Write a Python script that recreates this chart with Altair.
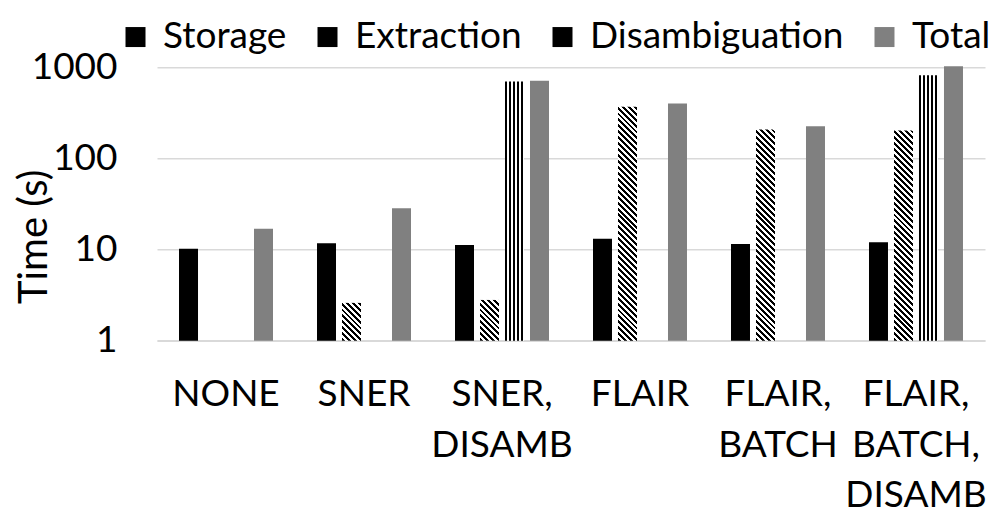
import math
import altair as alt
import pandas as pd

# ---- data ----
configs = ["NONE", "SNER", "SNER, DISAMB", "FLAIR", "FLAIR, BATCH", "FLAIR, BATCH, DISAMB"]
series_names = ["Storage", "Extraction", "Disambiguation", "Total"]
storage = [10.2, 11.7, 11.2, 13.1, 11.5, 12.0]
extraction = [None, 2.6, 2.8, 368, 208, 203]
disambiguation = [None, None, 700, None, None, 819]
total = [16.9, 28.4, 712, 401, 225, 1025]
y_ticks = [1, 10, 100, 1000]

rows = []
for i, c in enumerate(configs):
    for s, vals in zip(series_names, [storage, extraction, disambiguation, total]):
        if vals[i] is not None:
            rows.append({"config": c, "series": s, "time": float(vals[i])})
df = pd.DataFrame(rows)

# ---- layout ----
PLOT_W, PLOT_H = 828, 273.4
GRP_PAD = 0.2754
BAR_PAD = 0.24
FONT = "Lato"
FS = 37
BAR_W = PLOT_W / len(configs) * (1 - GRP_PAD) / 4 * (1 - BAR_PAD)


def diag_gradient(h, w=BAR_W, period=4.2, duty=0.5):
    """'\\' stripes for a box of w x h pixels (objectBoundingBox gradient)."""
    r = h / w
    k = (1 + r) / (1 + r * r)
    d = (w + h) / math.sqrt(2)
    stops = []
    i = 0
    while True:
        s0 = i * period / d
        if s0 >= 1:
            break
        s1 = min(1, s0 + duty * period / d)
        s2 = min(1, (i + 1) * period / d)
        stops += [{"offset": round(s0, 5), "color": "#000000"},
                  {"offset": round(s1, 5), "color": "#000000"},
                  {"offset": round(s1, 5), "color": "#ffffff"},
                  {"offset": round(s2, 5), "color": "#ffffff"}]
        i += 1
    return {"gradient": "linear", "x1": 0, "y1": 1, "x2": round(k, 6),
            "y2": round(1 - k * r, 6), "stops": stops}


def vert_gradient(w=BAR_W, period=4.0, black=2.3):
    stops = []
    x = 0.0
    while x < w:
        a = x / w
        b = min(1, (x + black) / w)
        c = min(1, (x + period) / w)
        stops += [{"offset": round(a, 5), "color": "#000000"},
                  {"offset": round(b, 5), "color": "#000000"},
                  {"offset": round(b, 5), "color": "#ffffff"},
                  {"offset": round(c, 5), "color": "#ffffff"}]
        x += period
    return {"gradient": "linear", "x1": 0, "y1": 0, "x2": 1, "y2": 0, "stops": stops}


conds = []
for i, c in enumerate(configs):
    v = extraction[i]
    if v is not None:
        h = math.log10(v) / 3 * PLOT_H
        conds.append({"test": f"datum.config === '{c}' && datum.series === 'Extraction'",
                      "value": diag_gradient(h)})
conds.append({"test": "datum.series === 'Disambiguation'", "value": vert_gradient()})

fill_scale = alt.Scale(domain=series_names, range=["#000000", "#000000", "#000000", "#808080"])

bars = alt.Chart(df).mark_bar().encode(
    x=alt.X("config:N", sort=configs, title=None,
            scale=alt.Scale(paddingInner=GRP_PAD, paddingOuter=GRP_PAD / 2),
            axis=alt.Axis(labelExpr="split(datum.label, ' ')", labelAngle=0,
                          labelBaseline="top", labelPadding=36, labelLineHeight=50.5,
                          labelFont=FONT, labelFontSize=FS, labelColor="#000000",
                          labelLimit=0, labelOverlap=False, ticks=False,
                          domainColor="#d9d9d9", domainWidth=1.5, grid=False)),
    xOffset=alt.XOffset("series:N", sort=series_names,
                        scale=alt.Scale(domain=series_names, paddingInner=BAR_PAD,
                                        paddingOuter=BAR_PAD / 2)),
    y=alt.Y("time:Q", title="Time (s)", stack=None,
            scale=alt.Scale(type="log", domain=[1, 1000]),
            axis=alt.Axis(values=y_ticks, format="d", labelFont=FONT, labelFontSize=FS,
                          labelColor="#000000", labelPadding=40, ticks=False, domain=False,
                          gridColor="#d9d9d9", gridWidth=1.5,
                          titleFont=FONT, titleFontSize=40, titleFontWeight="normal",
                          titleColor="#000000", titleAngle=-90, titleX=-103, titleY=169,
                          titleAlign="center", titleBaseline="bottom")),
    fill={"condition": conds, "field": "series", "type": "nominal",
          "scale": fill_scale.to_dict(),
          "legend": {"title": None, "orient": "none", "direction": "horizontal",
                     "legendX": -40, "legendY": -49,
                     "labelFont": FONT, "labelFontSize": FS, "labelColor": "#000000",
                     "labelLimit": 0, "symbolType": "square", "symbolSize": 400,
                     "symbolStrokeWidth": 0, "labelOffset": 9, "columnPadding": 22}},
)

chart = bars.properties(
    width=PLOT_W, height=PLOT_H,
    padding={"left": 149, "top": 59.3, "right": 15, "bottom": 180},
    autosize=alt.AutoSizeParams(type="none"),
).configure_view(stroke=None)

chart.save("out.html", embed_options={"renderer": "svg", "actions": False})
